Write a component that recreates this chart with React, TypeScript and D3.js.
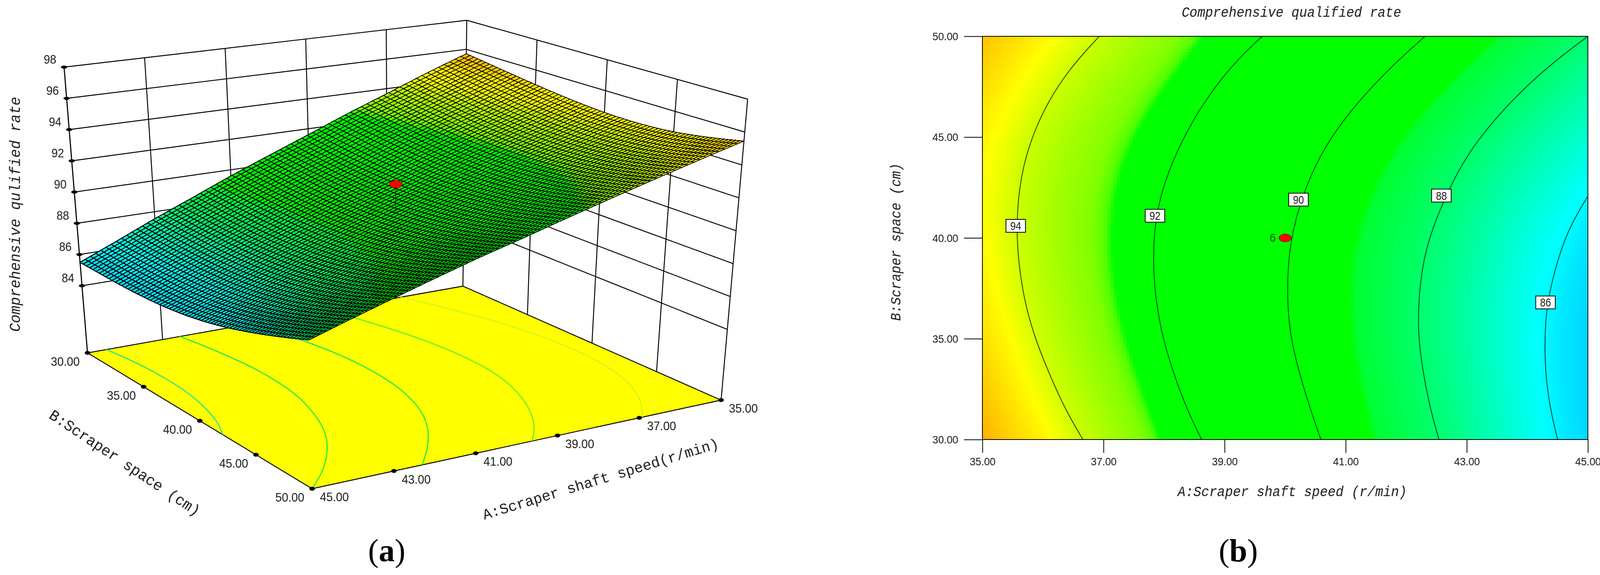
import { useEffect, useRef } from "react";
import * as d3 from "d3";

// axes
const speedTicks = [35, 37, 39, 41, 43, 45];
const spaceTicks = [30, 35, 40, 45, 50];
const rateTicks = [84, 86, 88, 90, 92, 94, 96, 98];

// response, one row per scraper space
const speedNodes = [35, 36, 37, 38, 39, 40, 41, 42, 43, 44, 45];
const rateAtSpace30 = [95.7, 94.7, 93.65, 92.65, 91.6, 90.6, 89.6, 88.55, 87.55, 86.5, 85.5];
const rateAtSpace35 = [95.0, 93.95, 93.0, 92.05, 91.0, 90.1, 89.15, 88.2, 87.25, 86.3, 85.35];
const rateAtSpace40 = [94.5, 93.6, 92.75, 91.85, 90.97, 90.08, 89.2, 88.3, 87.4, 86.5, 85.7];
const rateAtSpace45 = [94.6, 93.75, 93.0, 92.25, 91.45, 90.6, 89.8, 89.0, 88.2, 87.4, 86.7];
const rateAtSpace50 = [95.45, 94.7, 93.95, 93.2, 92.45, 91.7, 91.0, 90.25, 89.5, 88.75, 88.0];
const rateRows = [rateAtSpace30, rateAtSpace35, rateAtSpace40, rateAtSpace45, rateAtSpace50];

// contour lines, [speed, space]
const contour94 = [[36.93, 50], [36.42, 48.34], [36.03, 46.5], [35.75, 44.5], [35.6, 42.5], [35.55, 40], [35.66, 37.28], [35.83, 35.34], [36.08, 33.41], [36.37, 31.47], [36.66, 30]];
const contour92 = [[39.62, 50], [39.16, 48.7], [38.69, 46.9], [38.3, 44.9], [37.99, 42.7], [37.84, 40.7], [37.82, 38.7], [37.85, 37.28], [37.95, 35.34], [38.14, 33.41], [38.38, 31.47], [38.62, 30]];
const contour90 = [[42.31, 50], [41.75, 48.5], [41.12, 46.5], [40.57, 44.2], [40.22, 41.6], [40.06, 39.4], [40.03, 37.28], [40.07, 35.34], [40.22, 33.41], [40.42, 31.47], [40.59, 30]];
const contour88 = [[45, 50], [44.33, 48.5], [43.63, 46.5], [43.0, 44.2], [42.57, 41.6], [42.3, 39.3], [42.21, 37.28], [42.19, 35.34], [42.27, 33.41], [42.4, 31.47], [42.54, 30]];
const contour86 = [[45, 42.07], [44.65, 40.34], [44.41, 37.97], [44.32, 36.5], [44.29, 35.34], [44.29, 33.41], [44.38, 31.47], [44.5, 30]];
const contours = [contour94, contour92, contour90, contour88, contour86];
const floorContourColors = ["#d4f020", "#60ee30", "#20e850", "#20e850", "#30e090"];

const labelLevels = [94, 92, 90, 88, 86];
const labelSpeeds = [35.55, 37.85, 40.22, 42.58, 44.3];
const labelSpaces = [40.6, 41.1, 41.9, 42.1, 36.8];

const centerPoint = { speed: 40, space: 40, rate: 91.96, runs: "6" };

// colour ramp of the plots
const rampRates = [85.3, 85.8, 86.2, 87, 88, 89.05, 89.15, 92.7, 92.8, 93, 94, 94.55, 95.7];
const rampColors = ["#00d0ff", "#00e6ff", "#00ffff", "#00ffbe", "#00ff6e", "#00ff32", "#00ff00", "#00ff00", "#50ff00", "#80ff00", "#c8ff00", "#ffff00", "#ffb000"];

const WIDTH = 4105;
const HEIGHT = 1473;

const colorOf = d3.scaleLinear<string>().domain(rampRates).range(rampColors).clamp(true);

const rateAt = (speed: number, space: number) => {
  const i = Math.min(speedNodes.length - 2, Math.floor(speed - speedNodes[0]));
  const t = speed - speedNodes[i];
  const acrossSpace = rateRows.map(row => row[i] + (row[i + 1] - row[i]) * t);
  return d3.interpolateBasis(acrossSpace)((space - 30) / 20);
};

// 3d box: corners, blended between them
const floorCorners = { back: [1185, 733], left: [224, 904], right: [1846, 1025], front: [799, 1252] };
const roofCorners = { back: [1195, 52], left: [164, 172], right: [1914, 254], front: [779, 412] };
const uScale = d3.scaleLinear().domain([35, 45]).range([0, 1]);
const vScale = d3.scaleLinear().domain([30, 50]).range([0, 1]);
const wScale = d3.scaleLinear().domain([79.7, 98]).range([0, 1]);

const project = (speed: number, space: number, rate: number): [number, number] => {
  const u = uScale(speed);
  const v = vScale(space);
  const w = wScale(rate);
  const blend = (c: { back: number[]; left: number[]; right: number[]; front: number[] }, k: number) =>
    (1 - v) * ((1 - u) * c.back[k] + u * c.left[k]) + v * ((1 - u) * c.right[k] + u * c.front[k]);
  return [
    (1 - w) * blend(floorCorners, 0) + w * blend(roofCorners, 0),
    (1 - w) * blend(floorCorners, 1) + w * blend(roofCorners, 1),
  ];
};

const SANS = "'Liberation Sans', sans-serif";
const NARROW = "'Liberation Sans Narrow', 'Liberation Sans', sans-serif";
const SERIF = "'Liberation Serif', serif";
const MONO = "'Liberation Mono', monospace";

export default function App() {
  const svgRef = useRef<SVGSVGElement>(null);

  useEffect(() => {
    const svgEl = svgRef.current;
    if (svgEl === null) return;
    const svg = d3.select(svgEl);
    svg.selectAll("*").remove();

    const text = (
      g: any, str: string, x: number, y: number, size: number, family: string, length: number, opts: any = {},
    ) =>
      g.append("text")
        .attr("transform", `translate(${x},${y}) rotate(${opts.angle ?? 0})`)
        .attr("text-anchor", "middle")
        .attr("dominant-baseline", "central")
        .attr("font-family", family)
        .attr("font-size", size)
        .attr("font-style", opts.italic ? "italic" : "normal")
        .attr("fill", opts.fill ?? "#222")
        .attr("textLength", length)
        .attr("lengthAdjust", "spacingAndGlyphs")
        .text(str);

    // ---- (a) response surface ----
    const a = svg.append("g");
    const seg = (p: [number, number], q: [number, number], w = 2.4) =>
      a.append("line").attr("x1", p[0]).attr("y1", p[1]).attr("x2", q[0]).attr("y2", q[1])
        .attr("stroke", "#000").attr("stroke-width", w);

    // walls
    rateTicks.forEach(r => {
      seg(project(45, 30, r), project(35, 30, r));
      seg(project(35, 30, r), project(35, 50, r));
    });
    speedTicks.forEach(s => {
      if (s === 45 || s === 35) return;
      seg(project(s, 30, 79.7), project(s, 30, 98));
    });
    d3.range(30, 51, 5).forEach(b => seg(project(35, b, 79.7), project(35, b, 98)));
    seg(project(45, 30, 79.7), project(45, 30, 98), 2.8);

    // floor
    const ring = [[35, 30], [45, 30], [45, 50], [35, 50]].map(([s, b]) => project(s, b, 79.7));
    a.append("polygon").attr("points", ring.join(" ")).attr("fill", "#ffff00").attr("stroke", "#000").attr("stroke-width", 2.4);

    const floorLine = d3.line<number[]>()
      .x(d => project(d[0], d[1], 79.7)[0])
      .y(d => project(d[0], d[1], 79.7)[1])
      .curve(d3.curveBasis);
    a.append("g").selectAll("path").data(contours).join("path")
      .attr("d", d => floorLine(d))
      .attr("fill", "none")
      .attr("stroke", (_, i) => floorContourColors[i])
      .attr("stroke-width", 2.8);

    // surface mesh, wires look heavier toward the low end in the picture
    const N = 72;
    const speedAt = d3.scaleLinear().domain([0, N]).range([35, 45]);
    const spaceAt = d3.scaleLinear().domain([0, N]).range([30, 50]);
    const wireWidth = d3.scaleLinear().domain([87, 95]).range([2.6, 1.9]).clamp(true);
    const cells: { i: number; j: number; rate: number }[] = [];
    d3.range(N).forEach(i => d3.range(N).forEach(j => cells.push({
      i, j, rate: rateAt(Math.min(speedAt(i + 0.5), 44.9999), spaceAt(j + 0.5)),
    })));
    const node = (i: number, j: number) => {
      const s = speedAt(i);
      const b = spaceAt(j);
      return project(s, b, rateAt(Math.min(s, 44.9999), b));
    };
    a.append("g").attr("shape-rendering", "crispEdges").selectAll("polygon").data(cells).join("polygon")
      .attr("points", d => [node(d.i, d.j), node(d.i + 1, d.j), node(d.i + 1, d.j + 1), node(d.i, d.j + 1)].join(" "))
      .attr("fill", d => colorOf(d.rate))
      .attr("stroke", "#000").attr("stroke-width", d => wireWidth(d.rate));

    // design point and its drop line
    const cp = project(centerPoint.speed, centerPoint.space, centerPoint.rate);
    const cs = project(centerPoint.speed, centerPoint.space, rateAt(centerPoint.speed, centerPoint.space));
    a.append("line").attr("x1", cp[0]).attr("y1", cp[1]).attr("x2", cs[0]).attr("y2", cs[1]).attr("stroke", "#222").attr("stroke-width", 2);
    a.append("ellipse").attr("cx", cp[0]).attr("cy", cp[1]).attr("rx", 16).attr("ry", 10).attr("fill", "#ff0000").attr("stroke", "#300").attr("stroke-width", 1);

    // ticks on the box
    const dot = (p: [number, number], rx = 7, ry = 5) =>
      a.append("ellipse").attr("cx", p[0]).attr("cy", p[1]).attr("rx", rx).attr("ry", ry).attr("fill", "#000");
    rateTicks.forEach(r => {
      const p = project(45, 30, r);
      dot(p, 8, 4);
      text(a, String(r), p[0] - 36, p[1] - 20, 31, SANS, 32);
    });
    spaceTicks.forEach(b => {
      const p = project(45, b, 79.7);
      dot(p);
      text(a, d3.format(".2f")(b), p[0] - 57, p[1] + 22, 32, NARROW, 74);
    });
    speedTicks.forEach(s => {
      const p = project(s, 50, 79.7);
      dot(p);
      text(a, d3.format(".2f")(s), p[0] + 57, p[1] + 21, 32, NARROW, 74);
    });

    text(a, "Comprehensive qulified rate", 40, 549, 38, MONO, 602, { angle: -90, italic: true });
    text(a, "B:Scraper space (cm)", 318, 1188, 39, MONO, 456, { angle: 33.8 });
    text(a, "A:Scraper shaft speed(r/min)", 1538, 1229, 38, MONO, 630, { angle: -17 });

    // ---- (b) contour plot ----
    const b = svg.append("g");
    const x = d3.scaleLinear().domain([35, 45]).range([2515, 4065]);
    const y = d3.scaleLinear().domain([30, 50]).range([1126, 93]);

    const STEP = 8;
    const colsX = d3.range(2515, 4065, STEP);
    const rowsY = d3.range(93, 1126, STEP);
    const field: { px: number; py: number }[] = [];
    colsX.forEach(px => rowsY.forEach(py => field.push({ px, py })));
    b.append("g").attr("shape-rendering", "crispEdges").selectAll("rect").data(field).join("rect")
      .attr("x", d => d.px).attr("y", d => d.py)
      .attr("width", d => Math.min(STEP, 4065 - d.px))
      .attr("height", d => Math.min(STEP, 1126 - d.py))
      .attr("fill", d => colorOf(rateAt(Math.min(x.invert(d.px + STEP / 2), 44.9999), Math.max(30, Math.min(50, y.invert(d.py + STEP / 2))))));

    const planLine = d3.line<number[]>().x(d => x(d[0])).y(d => y(d[1])).curve(d3.curveBasis);
    b.append("g").selectAll("path").data(contours).join("path")
      .attr("d", d => planLine(d))
      .attr("fill", "none").attr("stroke", "#0a2a1a").attr("stroke-width", 1.8);

    b.append("rect").attr("x", 2515).attr("y", 93).attr("width", 1550).attr("height", 1033)
      .attr("fill", "none").attr("stroke", "#000").attr("stroke-width", 2);

    const xAxis = b.append("g").attr("transform", "translate(0,1126)")
      .call(d3.axisBottom(x).tickValues(speedTicks).tickSize(34).tickFormat(d3.format(".2f") as any));
    const yAxis = b.append("g").attr("transform", "translate(2515,0)")
      .call(d3.axisLeft(y).tickValues(spaceTicks).tickSize(47).tickFormat(d3.format(".2f") as any));
    [xAxis, yAxis].forEach(ax => {
      ax.select(".domain").remove();
      ax.selectAll(".tick line").attr("stroke", "#000").attr("stroke-width", 2);
      ax.selectAll(".tick text")
        .attr("font-family", NARROW).attr("font-size", 28).attr("fill", "#222")
        .attr("textLength", 66).attr("lengthAdjust", "spacingAndGlyphs");
    });
    xAxis.selectAll(".tick text").attr("dy", "0").attr("y", 56).attr("dominant-baseline", "central");
    yAxis.selectAll(".tick text").attr("x", -62).attr("dy", "0").attr("dominant-baseline", "central");

    labelLevels.forEach((level, i) => {
      const px = x(labelSpeeds[i]);
      const py = y(labelSpaces[i]);
      b.append("rect").attr("x", px - 25).attr("y", py - 16.5).attr("width", 50).attr("height", 33)
        .attr("fill", "#fff").attr("stroke", "#000").attr("stroke-width", 2);
      text(b, String(level), px, py, 30, NARROW, 28);
    });

    const px = x(centerPoint.speed);
    const py = y(centerPoint.space);
    b.append("ellipse").attr("cx", px).attr("cy", py).attr("rx", 16).attr("ry", 10).attr("fill", "#ff0000").attr("stroke", "#300").attr("stroke-width", 1);
    text(b, centerPoint.runs, px - 32, py - 1, 30, SANS, 16, { fill: "#0a5a0a" });

    text(b, "Comprehensive qualified rate", 3306, 33, 37, MONO, 562, { italic: true });
    text(b, "A:Scraper shaft speed (r/min)", 3308, 1261, 37, MONO, 587, { italic: true });
    text(b, "B:Scraper space (cm)", 2295, 620, 36, MONO, 404, { angle: -90, italic: true });

    // ---- panel letters ----
    const letter = (g: any, cx: number, ch: string) => {
      const t = g.append("text").attr("x", cx).attr("y", 1438).attr("text-anchor", "middle")
        .attr("font-family", SERIF).attr("font-size", 82).attr("fill", "#000");
      t.append("tspan").text("(");
      t.append("tspan").attr("font-weight", "bold").text(ch);
      t.append("tspan").text(")");
    };
    letter(svg, 990, "a");
    letter(svg, 3170, "b");
  }, []);

  return (
    <svg
      ref={svgRef}
      width={WIDTH}
      height={HEIGHT}
      viewBox={`0 0 ${WIDTH} ${HEIGHT}`}
      style={{ position: "absolute", left: 0, top: 0, background: "#fff" }}
    />
  );
}
